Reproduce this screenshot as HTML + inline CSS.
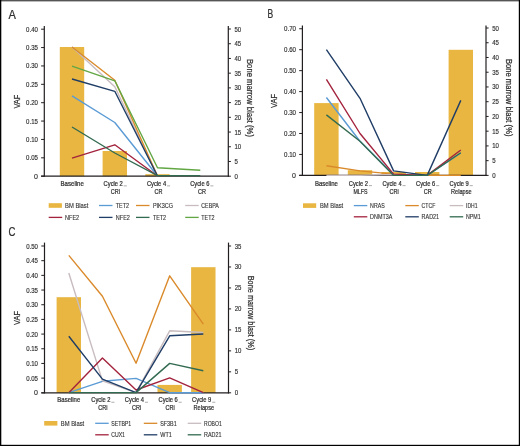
<!DOCTYPE html>
<html><head><meta charset="utf-8"><style>
html,body{margin:0;padding:0;background:#fff;width:520px;height:446px;overflow:hidden;}
svg{display:block;will-change:transform;font-family:"Liberation Sans", sans-serif;}
</style></head><body>
<svg width="520" height="446" viewBox="0 0 520 446" font-family='"Liberation Sans", sans-serif'>
<rect x="0" y="0" width="520" height="446" fill="#ffffff"/>
<text x="8.60" y="18.70" font-size="12" text-anchor="start" fill="#303030" stroke="#303030" stroke-width="0.24" textLength="7.40" lengthAdjust="spacingAndGlyphs">A</text>
<rect x="59.80" y="47.00" width="24.40" height="129.20" fill="#e8b641"/>
<rect x="102.60" y="151.00" width="24.40" height="25.20" fill="#e8b641"/>
<rect x="145.30" y="174.20" width="24.40" height="2.00" fill="#e8b641"/>
<line x1="44.30" y1="26.00" x2="44.30" y2="176.80" stroke="#231f20" stroke-width="1.2"/>
<line x1="41.10" y1="176.20" x2="44.30" y2="176.20" stroke="#231f20" stroke-width="1.0"/>
<text x="37.90" y="178.70" font-size="7.0" text-anchor="end" fill="#303030" stroke="#303030" stroke-width="0.16">0</text>
<line x1="41.10" y1="157.82" x2="44.30" y2="157.82" stroke="#231f20" stroke-width="1.0"/>
<text x="37.90" y="160.32" font-size="7.0" text-anchor="end" fill="#303030" stroke="#303030" stroke-width="0.16" textLength="11.80" lengthAdjust="spacingAndGlyphs">0.05</text>
<line x1="41.10" y1="139.45" x2="44.30" y2="139.45" stroke="#231f20" stroke-width="1.0"/>
<text x="37.90" y="141.95" font-size="7.0" text-anchor="end" fill="#303030" stroke="#303030" stroke-width="0.16" textLength="11.80" lengthAdjust="spacingAndGlyphs">0.10</text>
<line x1="41.10" y1="121.07" x2="44.30" y2="121.07" stroke="#231f20" stroke-width="1.0"/>
<text x="37.90" y="123.57" font-size="7.0" text-anchor="end" fill="#303030" stroke="#303030" stroke-width="0.16" textLength="11.80" lengthAdjust="spacingAndGlyphs">0.15</text>
<line x1="41.10" y1="102.70" x2="44.30" y2="102.70" stroke="#231f20" stroke-width="1.0"/>
<text x="37.90" y="105.20" font-size="7.0" text-anchor="end" fill="#303030" stroke="#303030" stroke-width="0.16" textLength="11.80" lengthAdjust="spacingAndGlyphs">0.20</text>
<line x1="41.10" y1="84.32" x2="44.30" y2="84.32" stroke="#231f20" stroke-width="1.0"/>
<text x="37.90" y="86.82" font-size="7.0" text-anchor="end" fill="#303030" stroke="#303030" stroke-width="0.16" textLength="11.80" lengthAdjust="spacingAndGlyphs">0.25</text>
<line x1="41.10" y1="65.95" x2="44.30" y2="65.95" stroke="#231f20" stroke-width="1.0"/>
<text x="37.90" y="68.45" font-size="7.0" text-anchor="end" fill="#303030" stroke="#303030" stroke-width="0.16" textLength="11.80" lengthAdjust="spacingAndGlyphs">0.30</text>
<line x1="41.10" y1="47.57" x2="44.30" y2="47.57" stroke="#231f20" stroke-width="1.0"/>
<text x="37.90" y="50.07" font-size="7.0" text-anchor="end" fill="#303030" stroke="#303030" stroke-width="0.16" textLength="11.80" lengthAdjust="spacingAndGlyphs">0.35</text>
<line x1="41.10" y1="29.20" x2="44.30" y2="29.20" stroke="#231f20" stroke-width="1.0"/>
<text x="37.90" y="31.70" font-size="7.0" text-anchor="end" fill="#303030" stroke="#303030" stroke-width="0.16" textLength="11.80" lengthAdjust="spacingAndGlyphs">0.40</text>
<line x1="228.30" y1="26.00" x2="228.30" y2="176.80" stroke="#231f20" stroke-width="1.2"/>
<line x1="228.30" y1="176.20" x2="230.90" y2="176.20" stroke="#231f20" stroke-width="1.0"/>
<text x="234.50" y="178.70" font-size="7.0" text-anchor="start" fill="#303030" stroke="#303030" stroke-width="0.16" textLength="3.40" lengthAdjust="spacingAndGlyphs">0</text>
<line x1="228.30" y1="161.48" x2="230.90" y2="161.48" stroke="#231f20" stroke-width="1.0"/>
<text x="234.50" y="163.98" font-size="7.0" text-anchor="start" fill="#303030" stroke="#303030" stroke-width="0.16" textLength="3.40" lengthAdjust="spacingAndGlyphs">5</text>
<line x1="228.30" y1="146.76" x2="230.90" y2="146.76" stroke="#231f20" stroke-width="1.0"/>
<text x="234.50" y="149.26" font-size="7.0" text-anchor="start" fill="#303030" stroke="#303030" stroke-width="0.16" textLength="6.70" lengthAdjust="spacingAndGlyphs">10</text>
<line x1="228.30" y1="132.04" x2="230.90" y2="132.04" stroke="#231f20" stroke-width="1.0"/>
<text x="234.50" y="134.54" font-size="7.0" text-anchor="start" fill="#303030" stroke="#303030" stroke-width="0.16" textLength="6.70" lengthAdjust="spacingAndGlyphs">15</text>
<line x1="228.30" y1="117.32" x2="230.90" y2="117.32" stroke="#231f20" stroke-width="1.0"/>
<text x="234.50" y="119.82" font-size="7.0" text-anchor="start" fill="#303030" stroke="#303030" stroke-width="0.16" textLength="6.70" lengthAdjust="spacingAndGlyphs">20</text>
<line x1="228.30" y1="102.60" x2="230.90" y2="102.60" stroke="#231f20" stroke-width="1.0"/>
<text x="234.50" y="105.10" font-size="7.0" text-anchor="start" fill="#303030" stroke="#303030" stroke-width="0.16" textLength="6.70" lengthAdjust="spacingAndGlyphs">25</text>
<line x1="228.30" y1="87.88" x2="230.90" y2="87.88" stroke="#231f20" stroke-width="1.0"/>
<text x="234.50" y="90.38" font-size="7.0" text-anchor="start" fill="#303030" stroke="#303030" stroke-width="0.16" textLength="6.70" lengthAdjust="spacingAndGlyphs">30</text>
<line x1="228.30" y1="73.16" x2="230.90" y2="73.16" stroke="#231f20" stroke-width="1.0"/>
<text x="234.50" y="75.66" font-size="7.0" text-anchor="start" fill="#303030" stroke="#303030" stroke-width="0.16" textLength="6.70" lengthAdjust="spacingAndGlyphs">35</text>
<line x1="228.30" y1="58.44" x2="230.90" y2="58.44" stroke="#231f20" stroke-width="1.0"/>
<text x="234.50" y="60.94" font-size="7.0" text-anchor="start" fill="#303030" stroke="#303030" stroke-width="0.16" textLength="6.70" lengthAdjust="spacingAndGlyphs">40</text>
<line x1="228.30" y1="43.72" x2="230.90" y2="43.72" stroke="#231f20" stroke-width="1.0"/>
<text x="234.50" y="46.22" font-size="7.0" text-anchor="start" fill="#303030" stroke="#303030" stroke-width="0.16" textLength="6.70" lengthAdjust="spacingAndGlyphs">45</text>
<line x1="228.30" y1="29.00" x2="230.90" y2="29.00" stroke="#231f20" stroke-width="1.0"/>
<text x="234.50" y="31.50" font-size="7.0" text-anchor="start" fill="#303030" stroke="#303030" stroke-width="0.16" textLength="6.70" lengthAdjust="spacingAndGlyphs">50</text>
<line x1="41.10" y1="176.20" x2="228.90" y2="176.20" stroke="#231f20" stroke-width="1.2"/>
<polyline points="72.00,95.90 114.80,122.50 157.50,176.00" fill="none" stroke="#5b9bd5" stroke-width="1.4" stroke-linejoin="round" stroke-linecap="butt"/>
<polyline points="72.00,47.00 114.80,86.80 157.50,176.00" fill="none" stroke="#c8bcbf" stroke-width="1.4" stroke-linejoin="round" stroke-linecap="butt"/>
<polyline points="72.00,47.00 114.80,80.30 157.50,176.00" fill="none" stroke="#da8a2b" stroke-width="1.4" stroke-linejoin="round" stroke-linecap="butt"/>
<polyline points="72.00,158.10 114.80,144.80 157.50,176.00" fill="none" stroke="#a3233d" stroke-width="1.4" stroke-linejoin="round" stroke-linecap="butt"/>
<polyline points="72.00,79.00 114.80,91.30 157.50,176.00" fill="none" stroke="#1f3d66" stroke-width="1.4" stroke-linejoin="round" stroke-linecap="butt"/>
<polyline points="72.00,127.00 114.80,153.00 157.50,175.60 200.30,175.60" fill="none" stroke="#336b51" stroke-width="1.4" stroke-linejoin="round" stroke-linecap="butt"/>
<polyline points="72.00,66.20 114.80,80.80 157.50,167.80 200.30,170.20" fill="none" stroke="#62a744" stroke-width="1.4" stroke-linejoin="round" stroke-linecap="butt"/>
<text x="72.20" y="185.70" font-size="7.0" text-anchor="middle" fill="#303030" stroke="#303030" stroke-width="0.24" textLength="23.40" lengthAdjust="spacingAndGlyphs">Baseline</text>
<text x="103.60" y="185.70" font-size="7.0" text-anchor="start" fill="#303030" stroke="#303030" stroke-width="0.24" textLength="19.20" lengthAdjust="spacingAndGlyphs">Cycle 2</text>
<rect x="123.70" y="185.50" width="3.1" height="0.8" fill="#9a9a9a"/>
<text x="115.30" y="193.70" font-size="7.0" text-anchor="middle" fill="#303030" stroke="#303030" stroke-width="0.24" textLength="9.20" lengthAdjust="spacingAndGlyphs">CRi</text>
<text x="146.90" y="185.70" font-size="7.0" text-anchor="start" fill="#303030" stroke="#303030" stroke-width="0.24" textLength="19.20" lengthAdjust="spacingAndGlyphs">Cycle 4</text>
<rect x="167.00" y="185.50" width="3.1" height="0.8" fill="#9a9a9a"/>
<text x="158.60" y="193.70" font-size="7.0" text-anchor="middle" fill="#303030" stroke="#303030" stroke-width="0.24" textLength="8.00" lengthAdjust="spacingAndGlyphs">CR</text>
<text x="190.20" y="185.70" font-size="7.0" text-anchor="start" fill="#303030" stroke="#303030" stroke-width="0.24" textLength="19.20" lengthAdjust="spacingAndGlyphs">Cycle 6</text>
<rect x="210.30" y="185.50" width="3.1" height="0.8" fill="#9a9a9a"/>
<text x="201.90" y="193.70" font-size="7.0" text-anchor="middle" fill="#303030" stroke="#303030" stroke-width="0.24" textLength="8.00" lengthAdjust="spacingAndGlyphs">CR</text>
<text x="19.60" y="101.60" font-size="9.6" text-anchor="middle" fill="#303030" stroke="#303030" stroke-width="0.24" textLength="14.00" lengthAdjust="spacingAndGlyphs" transform="rotate(-90 19.60 101.60)">VAF</text>
<text x="247.30" y="98.00" font-size="8.6" text-anchor="middle" fill="#303030" stroke="#303030" stroke-width="0.24" textLength="78.00" lengthAdjust="spacingAndGlyphs" transform="rotate(90 247.30 98.00)">Bone marrow blast (%)</text>
<rect x="48.70" y="203.20" width="13.20" height="4.60" fill="#e8b641"/>
<text x="65.10" y="207.90" font-size="6.6" text-anchor="start" fill="#303030" stroke="#303030" stroke-width="0.12" textLength="23.30" lengthAdjust="spacingAndGlyphs">BM Blast</text>
<line x1="99.00" y1="205.50" x2="112.50" y2="205.50" stroke="#5b9bd5" stroke-width="1.3"/>
<text x="115.80" y="207.90" font-size="6.6" text-anchor="start" fill="#303030" stroke="#303030" stroke-width="0.12" textLength="13.20" lengthAdjust="spacingAndGlyphs">TET2</text>
<line x1="136.00" y1="205.50" x2="149.50" y2="205.50" stroke="#da8a2b" stroke-width="1.3"/>
<text x="152.90" y="207.90" font-size="6.6" text-anchor="start" fill="#303030" stroke="#303030" stroke-width="0.12" textLength="20.20" lengthAdjust="spacingAndGlyphs">PIK3CG</text>
<line x1="185.20" y1="205.50" x2="198.70" y2="205.50" stroke="#c8bcbf" stroke-width="1.3"/>
<text x="201.30" y="207.90" font-size="6.6" text-anchor="start" fill="#303030" stroke="#303030" stroke-width="0.12" textLength="17.50" lengthAdjust="spacingAndGlyphs">CEBPA</text>
<line x1="48.70" y1="217.40" x2="62.20" y2="217.40" stroke="#a3233d" stroke-width="1.3"/>
<text x="65.10" y="219.80" font-size="6.6" text-anchor="start" fill="#303030" stroke="#303030" stroke-width="0.12" textLength="14.10" lengthAdjust="spacingAndGlyphs">NFE2</text>
<line x1="99.00" y1="217.40" x2="112.50" y2="217.40" stroke="#1f3d66" stroke-width="1.3"/>
<text x="115.80" y="219.80" font-size="6.6" text-anchor="start" fill="#303030" stroke="#303030" stroke-width="0.12" textLength="14.10" lengthAdjust="spacingAndGlyphs">NFE2</text>
<line x1="136.00" y1="217.40" x2="149.50" y2="217.40" stroke="#336b51" stroke-width="1.3"/>
<text x="152.90" y="219.80" font-size="6.6" text-anchor="start" fill="#303030" stroke="#303030" stroke-width="0.12" textLength="13.20" lengthAdjust="spacingAndGlyphs">TET2</text>
<line x1="185.20" y1="217.40" x2="198.70" y2="217.40" stroke="#62a744" stroke-width="1.3"/>
<text x="201.30" y="219.80" font-size="6.6" text-anchor="start" fill="#303030" stroke="#303030" stroke-width="0.12" textLength="13.20" lengthAdjust="spacingAndGlyphs">TET2</text>
<text x="267.60" y="18.00" font-size="12" text-anchor="start" fill="#303030" stroke="#303030" stroke-width="0.24" textLength="5.70" lengthAdjust="spacingAndGlyphs">B</text>
<rect x="314.20" y="103.10" width="24.40" height="72.30" fill="#e8b641"/>
<rect x="347.80" y="170.20" width="24.40" height="5.20" fill="#e8b641"/>
<rect x="381.40" y="172.00" width="24.40" height="3.40" fill="#e8b641"/>
<rect x="415.00" y="172.00" width="24.40" height="3.40" fill="#e8b641"/>
<rect x="448.60" y="49.80" width="24.40" height="125.60" fill="#e8b641"/>
<line x1="302.40" y1="25.40" x2="302.40" y2="176.00" stroke="#231f20" stroke-width="1.2"/>
<line x1="299.20" y1="175.40" x2="302.40" y2="175.40" stroke="#231f20" stroke-width="1.0"/>
<text x="296.00" y="177.90" font-size="7.0" text-anchor="end" fill="#303030" stroke="#303030" stroke-width="0.16">0</text>
<line x1="299.20" y1="154.45" x2="302.40" y2="154.45" stroke="#231f20" stroke-width="1.0"/>
<text x="296.00" y="156.95" font-size="7.0" text-anchor="end" fill="#303030" stroke="#303030" stroke-width="0.16" textLength="12.00" lengthAdjust="spacingAndGlyphs">0.10</text>
<line x1="299.20" y1="133.50" x2="302.40" y2="133.50" stroke="#231f20" stroke-width="1.0"/>
<text x="296.00" y="136.00" font-size="7.0" text-anchor="end" fill="#303030" stroke="#303030" stroke-width="0.16" textLength="12.00" lengthAdjust="spacingAndGlyphs">0.20</text>
<line x1="299.20" y1="112.55" x2="302.40" y2="112.55" stroke="#231f20" stroke-width="1.0"/>
<text x="296.00" y="115.05" font-size="7.0" text-anchor="end" fill="#303030" stroke="#303030" stroke-width="0.16" textLength="12.00" lengthAdjust="spacingAndGlyphs">0.30</text>
<line x1="299.20" y1="91.60" x2="302.40" y2="91.60" stroke="#231f20" stroke-width="1.0"/>
<text x="296.00" y="94.10" font-size="7.0" text-anchor="end" fill="#303030" stroke="#303030" stroke-width="0.16" textLength="12.00" lengthAdjust="spacingAndGlyphs">0.40</text>
<line x1="299.20" y1="70.65" x2="302.40" y2="70.65" stroke="#231f20" stroke-width="1.0"/>
<text x="296.00" y="73.15" font-size="7.0" text-anchor="end" fill="#303030" stroke="#303030" stroke-width="0.16" textLength="12.00" lengthAdjust="spacingAndGlyphs">0.50</text>
<line x1="299.20" y1="49.70" x2="302.40" y2="49.70" stroke="#231f20" stroke-width="1.0"/>
<text x="296.00" y="52.20" font-size="7.0" text-anchor="end" fill="#303030" stroke="#303030" stroke-width="0.16" textLength="12.00" lengthAdjust="spacingAndGlyphs">0.60</text>
<line x1="299.20" y1="28.75" x2="302.40" y2="28.75" stroke="#231f20" stroke-width="1.0"/>
<text x="296.00" y="31.25" font-size="7.0" text-anchor="end" fill="#303030" stroke="#303030" stroke-width="0.16" textLength="12.00" lengthAdjust="spacingAndGlyphs">0.70</text>
<line x1="486.00" y1="25.40" x2="486.00" y2="176.00" stroke="#231f20" stroke-width="1.2"/>
<line x1="486.00" y1="175.40" x2="488.60" y2="175.40" stroke="#231f20" stroke-width="1.0"/>
<text x="492.20" y="177.90" font-size="7.0" text-anchor="start" fill="#303030" stroke="#303030" stroke-width="0.16" textLength="3.40" lengthAdjust="spacingAndGlyphs">0</text>
<line x1="486.00" y1="160.66" x2="488.60" y2="160.66" stroke="#231f20" stroke-width="1.0"/>
<text x="492.20" y="163.16" font-size="7.0" text-anchor="start" fill="#303030" stroke="#303030" stroke-width="0.16" textLength="3.40" lengthAdjust="spacingAndGlyphs">5</text>
<line x1="486.00" y1="145.92" x2="488.60" y2="145.92" stroke="#231f20" stroke-width="1.0"/>
<text x="492.20" y="148.42" font-size="7.0" text-anchor="start" fill="#303030" stroke="#303030" stroke-width="0.16" textLength="6.70" lengthAdjust="spacingAndGlyphs">10</text>
<line x1="486.00" y1="131.18" x2="488.60" y2="131.18" stroke="#231f20" stroke-width="1.0"/>
<text x="492.20" y="133.68" font-size="7.0" text-anchor="start" fill="#303030" stroke="#303030" stroke-width="0.16" textLength="6.70" lengthAdjust="spacingAndGlyphs">15</text>
<line x1="486.00" y1="116.44" x2="488.60" y2="116.44" stroke="#231f20" stroke-width="1.0"/>
<text x="492.20" y="118.94" font-size="7.0" text-anchor="start" fill="#303030" stroke="#303030" stroke-width="0.16" textLength="6.70" lengthAdjust="spacingAndGlyphs">20</text>
<line x1="486.00" y1="101.70" x2="488.60" y2="101.70" stroke="#231f20" stroke-width="1.0"/>
<text x="492.20" y="104.20" font-size="7.0" text-anchor="start" fill="#303030" stroke="#303030" stroke-width="0.16" textLength="6.70" lengthAdjust="spacingAndGlyphs">25</text>
<line x1="486.00" y1="86.96" x2="488.60" y2="86.96" stroke="#231f20" stroke-width="1.0"/>
<text x="492.20" y="89.46" font-size="7.0" text-anchor="start" fill="#303030" stroke="#303030" stroke-width="0.16" textLength="6.70" lengthAdjust="spacingAndGlyphs">30</text>
<line x1="486.00" y1="72.22" x2="488.60" y2="72.22" stroke="#231f20" stroke-width="1.0"/>
<text x="492.20" y="74.72" font-size="7.0" text-anchor="start" fill="#303030" stroke="#303030" stroke-width="0.16" textLength="6.70" lengthAdjust="spacingAndGlyphs">35</text>
<line x1="486.00" y1="57.48" x2="488.60" y2="57.48" stroke="#231f20" stroke-width="1.0"/>
<text x="492.20" y="59.98" font-size="7.0" text-anchor="start" fill="#303030" stroke="#303030" stroke-width="0.16" textLength="6.70" lengthAdjust="spacingAndGlyphs">40</text>
<line x1="486.00" y1="42.74" x2="488.60" y2="42.74" stroke="#231f20" stroke-width="1.0"/>
<text x="492.20" y="45.24" font-size="7.0" text-anchor="start" fill="#303030" stroke="#303030" stroke-width="0.16" textLength="6.70" lengthAdjust="spacingAndGlyphs">45</text>
<line x1="486.00" y1="28.00" x2="488.60" y2="28.00" stroke="#231f20" stroke-width="1.0"/>
<text x="492.20" y="30.50" font-size="7.0" text-anchor="start" fill="#303030" stroke="#303030" stroke-width="0.16" textLength="6.70" lengthAdjust="spacingAndGlyphs">50</text>
<line x1="299.20" y1="175.40" x2="486.60" y2="175.40" stroke="#231f20" stroke-width="1.2"/>
<polyline points="326.40,97.47 360.00,141.25 393.60,174.56 427.20,175.40 460.80,152.98" fill="none" stroke="#5b9bd5" stroke-width="1.4" stroke-linejoin="round" stroke-linecap="butt"/>
<polyline points="326.40,165.76 360.00,170.90 393.60,174.14 427.20,175.40 460.80,175.40" fill="none" stroke="#da8a2b" stroke-width="1.4" stroke-linejoin="round" stroke-linecap="butt"/>
<polyline points="326.40,175.40 360.00,175.40 393.60,174.56 427.20,175.40" fill="none" stroke="#c8bcbf" stroke-width="1.4" stroke-linejoin="round" stroke-linecap="butt"/>
<polyline points="326.40,79.45 360.00,133.50 393.60,174.14 427.20,175.40 460.80,150.05" fill="none" stroke="#a3233d" stroke-width="1.4" stroke-linejoin="round" stroke-linecap="butt"/>
<polyline points="326.40,49.70 360.00,98.30 393.60,170.90 427.20,175.40 460.80,100.40" fill="none" stroke="#1f3d66" stroke-width="1.4" stroke-linejoin="round" stroke-linecap="butt"/>
<polyline points="326.40,114.85 360.00,141.25 393.60,175.40 427.20,175.40 460.80,152.77" fill="none" stroke="#336b51" stroke-width="1.4" stroke-linejoin="round" stroke-linecap="butt"/>
<text x="326.40" y="185.50" font-size="7.0" text-anchor="middle" fill="#303030" stroke="#303030" stroke-width="0.24" textLength="23.00" lengthAdjust="spacingAndGlyphs">Baseline</text>
<text x="348.80" y="185.50" font-size="7.0" text-anchor="start" fill="#303030" stroke="#303030" stroke-width="0.24" textLength="19.20" lengthAdjust="spacingAndGlyphs">Cycle 2</text>
<rect x="368.90" y="185.30" width="3.1" height="0.8" fill="#9a9a9a"/>
<text x="360.50" y="193.50" font-size="7.0" text-anchor="middle" fill="#303030" stroke="#303030" stroke-width="0.24" textLength="14.00" lengthAdjust="spacingAndGlyphs">MLFS</text>
<text x="382.40" y="185.50" font-size="7.0" text-anchor="start" fill="#303030" stroke="#303030" stroke-width="0.24" textLength="19.20" lengthAdjust="spacingAndGlyphs">Cycle 4</text>
<rect x="402.50" y="185.30" width="3.1" height="0.8" fill="#9a9a9a"/>
<text x="394.10" y="193.50" font-size="7.0" text-anchor="middle" fill="#303030" stroke="#303030" stroke-width="0.24" textLength="9.20" lengthAdjust="spacingAndGlyphs">CRi</text>
<text x="416.00" y="185.50" font-size="7.0" text-anchor="start" fill="#303030" stroke="#303030" stroke-width="0.24" textLength="19.20" lengthAdjust="spacingAndGlyphs">Cycle 6</text>
<rect x="436.10" y="185.30" width="3.1" height="0.8" fill="#9a9a9a"/>
<text x="427.70" y="193.50" font-size="7.0" text-anchor="middle" fill="#303030" stroke="#303030" stroke-width="0.24" textLength="8.00" lengthAdjust="spacingAndGlyphs">CR</text>
<text x="449.60" y="185.50" font-size="7.0" text-anchor="start" fill="#303030" stroke="#303030" stroke-width="0.24" textLength="19.20" lengthAdjust="spacingAndGlyphs">Cycle 9</text>
<rect x="469.70" y="185.30" width="3.1" height="0.8" fill="#9a9a9a"/>
<text x="461.30" y="193.50" font-size="7.0" text-anchor="middle" fill="#303030" stroke="#303030" stroke-width="0.24" textLength="20.50" lengthAdjust="spacingAndGlyphs">Relapse</text>
<text x="277.30" y="100.90" font-size="9.6" text-anchor="middle" fill="#303030" stroke="#303030" stroke-width="0.24" textLength="14.00" lengthAdjust="spacingAndGlyphs" transform="rotate(-90 277.30 100.90)">VAF</text>
<text x="505.80" y="97.70" font-size="8.6" text-anchor="middle" fill="#303030" stroke="#303030" stroke-width="0.24" textLength="77.50" lengthAdjust="spacingAndGlyphs" transform="rotate(90 505.80 97.70)">Bone marrow blast (%)</text>
<rect x="303.00" y="203.30" width="13.20" height="4.60" fill="#e8b641"/>
<text x="320.00" y="208.00" font-size="6.6" text-anchor="start" fill="#303030" stroke="#303030" stroke-width="0.12" textLength="23.20" lengthAdjust="spacingAndGlyphs">BM Blast</text>
<line x1="353.80" y1="205.60" x2="367.30" y2="205.60" stroke="#5b9bd5" stroke-width="1.3"/>
<text x="370.10" y="208.00" font-size="6.6" text-anchor="start" fill="#303030" stroke="#303030" stroke-width="0.12" textLength="14.60" lengthAdjust="spacingAndGlyphs">NRAS</text>
<line x1="405.30" y1="205.60" x2="418.80" y2="205.60" stroke="#da8a2b" stroke-width="1.3"/>
<text x="421.60" y="208.00" font-size="6.6" text-anchor="start" fill="#303030" stroke="#303030" stroke-width="0.12" textLength="13.80" lengthAdjust="spacingAndGlyphs">CTCF</text>
<line x1="449.70" y1="205.60" x2="463.20" y2="205.60" stroke="#c8bcbf" stroke-width="1.3"/>
<text x="466.00" y="208.00" font-size="6.6" text-anchor="start" fill="#303030" stroke="#303030" stroke-width="0.12" textLength="11.50" lengthAdjust="spacingAndGlyphs">IDH1</text>
<line x1="353.80" y1="216.80" x2="367.30" y2="216.80" stroke="#a3233d" stroke-width="1.3"/>
<text x="370.10" y="219.20" font-size="6.6" text-anchor="start" fill="#303030" stroke="#303030" stroke-width="0.12" textLength="22.20" lengthAdjust="spacingAndGlyphs">DNMT3A</text>
<line x1="405.30" y1="216.80" x2="418.80" y2="216.80" stroke="#1f3d66" stroke-width="1.3"/>
<text x="421.60" y="219.20" font-size="6.6" text-anchor="start" fill="#303030" stroke="#303030" stroke-width="0.12" textLength="17.50" lengthAdjust="spacingAndGlyphs">RAD21</text>
<line x1="449.70" y1="216.80" x2="463.20" y2="216.80" stroke="#336b51" stroke-width="1.3"/>
<text x="466.00" y="219.20" font-size="6.6" text-anchor="start" fill="#303030" stroke="#303030" stroke-width="0.12" textLength="14.60" lengthAdjust="spacingAndGlyphs">NPM1</text>
<text x="8.40" y="235.50" font-size="12" text-anchor="start" fill="#303030" stroke="#303030" stroke-width="0.24" textLength="6.90" lengthAdjust="spacingAndGlyphs">C</text>
<rect x="56.60" y="297.20" width="24.40" height="95.60" fill="#e8b641"/>
<rect x="157.49" y="384.90" width="24.40" height="7.90" fill="#e8b641"/>
<rect x="191.12" y="267.20" width="24.40" height="125.60" fill="#e8b641"/>
<line x1="44.50" y1="242.60" x2="44.50" y2="393.40" stroke="#231f20" stroke-width="1.2"/>
<line x1="41.30" y1="392.80" x2="44.50" y2="392.80" stroke="#231f20" stroke-width="1.0"/>
<text x="38.00" y="395.30" font-size="7.0" text-anchor="end" fill="#303030" stroke="#303030" stroke-width="0.16">0</text>
<line x1="41.30" y1="378.12" x2="44.50" y2="378.12" stroke="#231f20" stroke-width="1.0"/>
<text x="38.00" y="380.62" font-size="7.0" text-anchor="end" fill="#303030" stroke="#303030" stroke-width="0.16" textLength="11.80" lengthAdjust="spacingAndGlyphs">0.05</text>
<line x1="41.30" y1="363.44" x2="44.50" y2="363.44" stroke="#231f20" stroke-width="1.0"/>
<text x="38.00" y="365.94" font-size="7.0" text-anchor="end" fill="#303030" stroke="#303030" stroke-width="0.16" textLength="11.80" lengthAdjust="spacingAndGlyphs">0.10</text>
<line x1="41.30" y1="348.76" x2="44.50" y2="348.76" stroke="#231f20" stroke-width="1.0"/>
<text x="38.00" y="351.26" font-size="7.0" text-anchor="end" fill="#303030" stroke="#303030" stroke-width="0.16" textLength="11.80" lengthAdjust="spacingAndGlyphs">0.15</text>
<line x1="41.30" y1="334.08" x2="44.50" y2="334.08" stroke="#231f20" stroke-width="1.0"/>
<text x="38.00" y="336.58" font-size="7.0" text-anchor="end" fill="#303030" stroke="#303030" stroke-width="0.16" textLength="11.80" lengthAdjust="spacingAndGlyphs">0.20</text>
<line x1="41.30" y1="319.40" x2="44.50" y2="319.40" stroke="#231f20" stroke-width="1.0"/>
<text x="38.00" y="321.90" font-size="7.0" text-anchor="end" fill="#303030" stroke="#303030" stroke-width="0.16" textLength="11.80" lengthAdjust="spacingAndGlyphs">0.25</text>
<line x1="41.30" y1="304.72" x2="44.50" y2="304.72" stroke="#231f20" stroke-width="1.0"/>
<text x="38.00" y="307.22" font-size="7.0" text-anchor="end" fill="#303030" stroke="#303030" stroke-width="0.16" textLength="11.80" lengthAdjust="spacingAndGlyphs">0.30</text>
<line x1="41.30" y1="290.04" x2="44.50" y2="290.04" stroke="#231f20" stroke-width="1.0"/>
<text x="38.00" y="292.54" font-size="7.0" text-anchor="end" fill="#303030" stroke="#303030" stroke-width="0.16" textLength="11.80" lengthAdjust="spacingAndGlyphs">0.35</text>
<line x1="41.30" y1="275.36" x2="44.50" y2="275.36" stroke="#231f20" stroke-width="1.0"/>
<text x="38.00" y="277.86" font-size="7.0" text-anchor="end" fill="#303030" stroke="#303030" stroke-width="0.16" textLength="11.80" lengthAdjust="spacingAndGlyphs">0.40</text>
<line x1="41.30" y1="260.68" x2="44.50" y2="260.68" stroke="#231f20" stroke-width="1.0"/>
<text x="38.00" y="263.18" font-size="7.0" text-anchor="end" fill="#303030" stroke="#303030" stroke-width="0.16" textLength="11.80" lengthAdjust="spacingAndGlyphs">0.45</text>
<line x1="41.30" y1="246.00" x2="44.50" y2="246.00" stroke="#231f20" stroke-width="1.0"/>
<text x="38.00" y="248.50" font-size="7.0" text-anchor="end" fill="#303030" stroke="#303030" stroke-width="0.16" textLength="11.80" lengthAdjust="spacingAndGlyphs">0.50</text>
<line x1="228.50" y1="242.60" x2="228.50" y2="393.40" stroke="#231f20" stroke-width="1.2"/>
<line x1="228.50" y1="392.80" x2="231.10" y2="392.80" stroke="#231f20" stroke-width="1.0"/>
<text x="234.70" y="395.30" font-size="7.0" text-anchor="start" fill="#303030" stroke="#303030" stroke-width="0.16" textLength="3.40" lengthAdjust="spacingAndGlyphs">0</text>
<line x1="228.50" y1="371.83" x2="231.10" y2="371.83" stroke="#231f20" stroke-width="1.0"/>
<text x="234.70" y="374.33" font-size="7.0" text-anchor="start" fill="#303030" stroke="#303030" stroke-width="0.16" textLength="3.40" lengthAdjust="spacingAndGlyphs">5</text>
<line x1="228.50" y1="350.86" x2="231.10" y2="350.86" stroke="#231f20" stroke-width="1.0"/>
<text x="234.70" y="353.36" font-size="7.0" text-anchor="start" fill="#303030" stroke="#303030" stroke-width="0.16" textLength="6.70" lengthAdjust="spacingAndGlyphs">10</text>
<line x1="228.50" y1="329.89" x2="231.10" y2="329.89" stroke="#231f20" stroke-width="1.0"/>
<text x="234.70" y="332.39" font-size="7.0" text-anchor="start" fill="#303030" stroke="#303030" stroke-width="0.16" textLength="6.70" lengthAdjust="spacingAndGlyphs">15</text>
<line x1="228.50" y1="308.92" x2="231.10" y2="308.92" stroke="#231f20" stroke-width="1.0"/>
<text x="234.70" y="311.42" font-size="7.0" text-anchor="start" fill="#303030" stroke="#303030" stroke-width="0.16" textLength="6.70" lengthAdjust="spacingAndGlyphs">20</text>
<line x1="228.50" y1="287.95" x2="231.10" y2="287.95" stroke="#231f20" stroke-width="1.0"/>
<text x="234.70" y="290.45" font-size="7.0" text-anchor="start" fill="#303030" stroke="#303030" stroke-width="0.16" textLength="6.70" lengthAdjust="spacingAndGlyphs">25</text>
<line x1="228.50" y1="266.98" x2="231.10" y2="266.98" stroke="#231f20" stroke-width="1.0"/>
<text x="234.70" y="269.48" font-size="7.0" text-anchor="start" fill="#303030" stroke="#303030" stroke-width="0.16" textLength="6.70" lengthAdjust="spacingAndGlyphs">30</text>
<line x1="228.50" y1="246.01" x2="231.10" y2="246.01" stroke="#231f20" stroke-width="1.0"/>
<text x="234.70" y="248.51" font-size="7.0" text-anchor="start" fill="#303030" stroke="#303030" stroke-width="0.16" textLength="6.70" lengthAdjust="spacingAndGlyphs">35</text>
<line x1="41.30" y1="392.80" x2="229.10" y2="392.80" stroke="#231f20" stroke-width="1.2"/>
<polyline points="68.80,392.70 102.43,381.30 136.06,378.40 169.69,392.70 203.32,392.70" fill="none" stroke="#5b9bd5" stroke-width="1.4" stroke-linejoin="round" stroke-linecap="butt"/>
<polyline points="68.80,255.40 102.43,296.30 136.06,363.20 169.69,275.80 203.32,324.20" fill="none" stroke="#da8a2b" stroke-width="1.4" stroke-linejoin="round" stroke-linecap="butt"/>
<polyline points="68.80,273.00 102.43,380.90 136.06,392.60 169.69,330.80 203.32,332.50" fill="none" stroke="#c8bcbf" stroke-width="1.4" stroke-linejoin="round" stroke-linecap="butt"/>
<polyline points="68.80,392.80 102.43,357.90 136.06,390.00 169.69,377.90 203.32,392.60" fill="none" stroke="#a3233d" stroke-width="1.4" stroke-linejoin="round" stroke-linecap="butt"/>
<polyline points="68.80,336.20 102.43,379.10 136.06,392.60 169.69,335.80 203.32,334.00" fill="none" stroke="#1f3d66" stroke-width="1.4" stroke-linejoin="round" stroke-linecap="butt"/>
<polyline points="68.80,392.60 102.43,392.60 136.06,392.60 169.69,363.40 203.32,370.70" fill="none" stroke="#336b51" stroke-width="1.4" stroke-linejoin="round" stroke-linecap="butt"/>
<text x="68.80" y="402.00" font-size="7.0" text-anchor="middle" fill="#303030" stroke="#303030" stroke-width="0.24" textLength="23.00" lengthAdjust="spacingAndGlyphs">Baseline</text>
<text x="91.23" y="402.00" font-size="7.0" text-anchor="start" fill="#303030" stroke="#303030" stroke-width="0.24" textLength="19.20" lengthAdjust="spacingAndGlyphs">Cycle 2</text>
<rect x="111.33" y="401.80" width="3.1" height="0.8" fill="#9a9a9a"/>
<text x="102.93" y="410.00" font-size="7.0" text-anchor="middle" fill="#303030" stroke="#303030" stroke-width="0.24" textLength="9.20" lengthAdjust="spacingAndGlyphs">CRi</text>
<text x="124.86" y="402.00" font-size="7.0" text-anchor="start" fill="#303030" stroke="#303030" stroke-width="0.24" textLength="19.20" lengthAdjust="spacingAndGlyphs">Cycle 4</text>
<rect x="144.96" y="401.80" width="3.1" height="0.8" fill="#9a9a9a"/>
<text x="136.56" y="410.00" font-size="7.0" text-anchor="middle" fill="#303030" stroke="#303030" stroke-width="0.24" textLength="9.20" lengthAdjust="spacingAndGlyphs">CRi</text>
<text x="158.49" y="402.00" font-size="7.0" text-anchor="start" fill="#303030" stroke="#303030" stroke-width="0.24" textLength="19.20" lengthAdjust="spacingAndGlyphs">Cycle 6</text>
<rect x="178.59" y="401.80" width="3.1" height="0.8" fill="#9a9a9a"/>
<text x="170.19" y="410.00" font-size="7.0" text-anchor="middle" fill="#303030" stroke="#303030" stroke-width="0.24" textLength="9.20" lengthAdjust="spacingAndGlyphs">CRi</text>
<text x="192.12" y="402.00" font-size="7.0" text-anchor="start" fill="#303030" stroke="#303030" stroke-width="0.24" textLength="19.20" lengthAdjust="spacingAndGlyphs">Cycle 9</text>
<rect x="212.22" y="401.80" width="3.1" height="0.8" fill="#9a9a9a"/>
<text x="203.82" y="410.00" font-size="7.0" text-anchor="middle" fill="#303030" stroke="#303030" stroke-width="0.24" textLength="20.50" lengthAdjust="spacingAndGlyphs">Relapse</text>
<text x="19.60" y="318.00" font-size="9.6" text-anchor="middle" fill="#303030" stroke="#303030" stroke-width="0.24" textLength="14.00" lengthAdjust="spacingAndGlyphs" transform="rotate(-90 19.60 318.00)">VAF</text>
<text x="248.20" y="313.00" font-size="8.6" text-anchor="middle" fill="#303030" stroke="#303030" stroke-width="0.24" textLength="74.50" lengthAdjust="spacingAndGlyphs" transform="rotate(90 248.20 313.00)">Bone marrow blast (%)</text>
<rect x="44.20" y="421.00" width="13.20" height="4.60" fill="#e8b641"/>
<text x="60.80" y="425.70" font-size="6.6" text-anchor="start" fill="#303030" stroke="#303030" stroke-width="0.12" textLength="23.40" lengthAdjust="spacingAndGlyphs">BM Blast</text>
<line x1="95.20" y1="423.30" x2="108.70" y2="423.30" stroke="#5b9bd5" stroke-width="1.3"/>
<text x="111.20" y="425.70" font-size="6.6" text-anchor="start" fill="#303030" stroke="#303030" stroke-width="0.12" textLength="20.10" lengthAdjust="spacingAndGlyphs">SETBP1</text>
<line x1="143.80" y1="423.30" x2="157.30" y2="423.30" stroke="#da8a2b" stroke-width="1.3"/>
<text x="160.20" y="425.70" font-size="6.6" text-anchor="start" fill="#303030" stroke="#303030" stroke-width="0.12" textLength="16.50" lengthAdjust="spacingAndGlyphs">SF3B1</text>
<line x1="187.70" y1="423.30" x2="201.20" y2="423.30" stroke="#c8bcbf" stroke-width="1.3"/>
<text x="204.00" y="425.70" font-size="6.6" text-anchor="start" fill="#303030" stroke="#303030" stroke-width="0.12" textLength="17.80" lengthAdjust="spacingAndGlyphs">ROBO1</text>
<line x1="95.20" y1="434.80" x2="108.70" y2="434.80" stroke="#a3233d" stroke-width="1.3"/>
<text x="111.20" y="437.20" font-size="6.6" text-anchor="start" fill="#303030" stroke="#303030" stroke-width="0.12" textLength="13.80" lengthAdjust="spacingAndGlyphs">CUX1</text>
<line x1="143.80" y1="434.80" x2="157.30" y2="434.80" stroke="#1f3d66" stroke-width="1.3"/>
<text x="160.20" y="437.20" font-size="6.6" text-anchor="start" fill="#303030" stroke="#303030" stroke-width="0.12" textLength="11.60" lengthAdjust="spacingAndGlyphs">WT1</text>
<line x1="187.70" y1="434.80" x2="201.20" y2="434.80" stroke="#336b51" stroke-width="1.3"/>
<text x="204.00" y="437.20" font-size="6.6" text-anchor="start" fill="#303030" stroke="#303030" stroke-width="0.12" textLength="17.50" lengthAdjust="spacingAndGlyphs">RAD21</text>
<rect x="0" y="0" width="520" height="1.4" fill="#555555"/>
<rect x="0" y="0" width="1.3" height="446" fill="#000"/>
<rect x="518.8" y="0" width="1.2" height="446" fill="#000"/>
<rect x="0" y="444.8" width="520" height="1.2" fill="#000"/>
</svg>
</body></html>
